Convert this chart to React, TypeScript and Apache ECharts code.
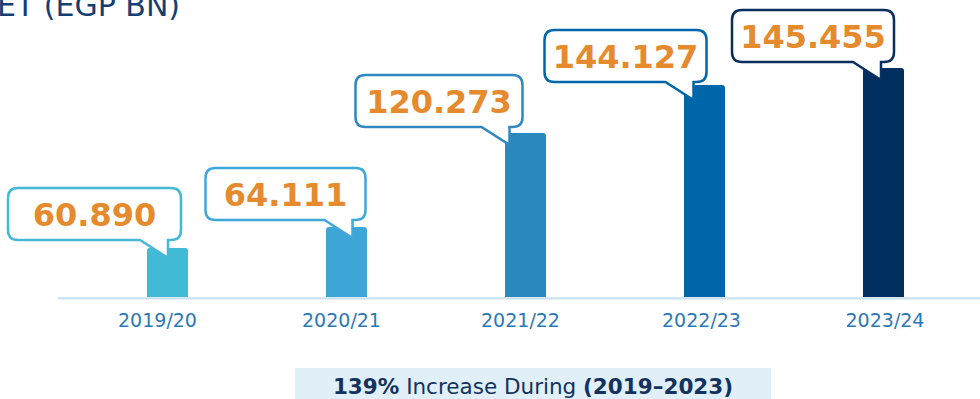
import React, { useEffect, useRef } from "react";
import * as echarts from "echarts";

const categories = ["2019/20", "2020/21", "2021/22", "2022/23", "2023/24"];
const values = [60.89, 64.111, 120.273, 144.127, 145.455];
// drawn bar levels as they appear in the picture (the infographic is not to scale)
const barLevels = [49, 70, 164, 212, 229];
const barColors = ["#41BAD6", "#3EA6D7", "#2B88BE", "#0066AA", "#002E5E"];
const bubbleBorders = ["#45B8D8", "#3FA8DB", "#2F88BF", "#0066AA", "#0A2F5F"];
// bubble placement relative to bar top (style only)
const bubbleLayout = [
  { dx: 13.5, dy: -8, w: 173 },
  { dx: 19, dy: -7, w: 160 },
  { dx: -3, dy: -6, w: 167 },
  { dx: 2, dy: -3, w: 162 },
  { dx: 10.5, dy: -6, w: 162 },
];
// horizontal nudge of each tick label (style only)
const labelShift = [-10, -5, -5, -3, 1.5];
const titleText = "ET (EGP BN)";
const noteBold1 = "139%";
const noteNormal = " Increase During ";
const noteBold2 = "(2019–2023)";

export default function App() {
  const ref = useRef<HTMLDivElement>(null);
  useEffect(() => {
    document.body.style.margin = "0";
    const chart = echarts.init(ref.current!, null, { renderer: "svg" });
    const renderItem = (params: any, api: any) => {
      const i = params.dataIndex;
      const p = api.coord([api.value(0), api.value(1)]);
      const cx = p[0];
      const ty = p[1];
      const lay = bubbleLayout[i];
      const R = cx + lay.dx;
      const B = ty + lay.dy;
      const L = R - lay.w;
      const T = B - 52;
      const r = 10;
      const tailR = R - 13;
      const tailL = tailR - 28;
      const tipY = B + 18;
      const d = `M${L + r} ${T} L${R - r} ${T} Q${R} ${T} ${R} ${T + r} L${R} ${B - r} Q${R} ${B} ${R - r} ${B} L${tailR} ${B} L${tailR} ${tipY} L${tailL} ${B} L${L + r} ${B} Q${L} ${B} ${L} ${B - r} L${L} ${T + r} Q${L} ${T} ${L + r} ${T} Z`;
      return {
        type: "group",
        children: [
          {
            type: "path",
            shape: { pathData: d },
            style: { fill: "#ffffff", stroke: bubbleBorders[i], lineWidth: 2.5, lineJoin: "miter" },
          },
          {
            type: "text",
            x: (L + R) / 2,
            y: (T + B) / 2 + 1,
            style: {
              text: values[i].toFixed(3),
              fill: "#E68A2E",
              font: 'bold 32px "DejaVu Sans"',
              align: "center",
              verticalAlign: "middle",
            },
          },
        ],
      };
    };
    const labelRich: Record<string, any> = {};
    labelShift.forEach((s, i) => {
      labelRich["c" + i] = {
        color: "#2B78B8",
        fontSize: 19,
        fontFamily: "DejaVu Sans",
        padding: s < 0 ? [0, -2 * s, 0, 0] : [0, 0, 0, 2 * s],
      };
    });
    chart.setOption({
      animation: false,
      grid: { left: 78, right: 7, top: 20, bottom: 102 },
      xAxis: {
        type: "category",
        data: categories,
        axisLine: { show: false },
        axisTick: { show: false },
        axisLabel: {
          color: "#2B78B8",
          fontSize: 19,
          fontFamily: "DejaVu Sans",
          margin: 13,
          formatter: (v: string, i: number) => `{c${i}|${v}}`,
          rich: labelRich,
        },
      },
      yAxis: { type: "value", min: 0, max: 277, show: false, splitLine: { show: false } },
      series: [
        {
          type: "bar",
          barWidth: 41,
          z: 2,
          data: barLevels.map((v, i) => ({
            value: v,
            itemStyle: { color: barColors[i], borderRadius: [3, 3, 0, 0] },
          })),
        },
        {
          type: "custom",
          z: 3,
          clip: false,
          encode: { x: 0, y: 1 },
          data: barLevels.map((v, i) => [i, v]),
          renderItem,
        },
      ],
      graphic: [
        {
          type: "line",
          shape: { x1: 58, y1: 298.3, x2: 980, y2: 298.3 },
          style: { stroke: "#C9E2F1", lineWidth: 2.2 },
          z: 1,
        },
        {
          type: "text",
          x: -3,
          y: 20,
          style: {
            text: titleText,
            fill: "#163E72",
            font: '30px "DejaVu Sans"',
            align: "left",
            verticalAlign: "bottom",
          },
        },
        {
          type: "rect",
          shape: { x: 295, y: 368, width: 476, height: 40 },
          style: { fill: "#E1EFF8" },
        },
        {
          type: "text",
          x: 533,
          y: 386,
          style: {
            text: `{b|${noteBold1}}{n|${noteNormal}}{b|${noteBold2}}`,
            align: "center",
            verticalAlign: "middle",
            rich: {
              b: { fontFamily: "DejaVu Sans", fontWeight: "bold", fontSize: 21.5, fill: "#13325E", color: "#13325E" },
              n: { fontFamily: "DejaVu Sans", fontSize: 21.5, fill: "#13325E", color: "#13325E" },
            },
          },
        },
      ],
    });
    return () => chart.dispose();
  }, []);
  return <div ref={ref} style={{ width: 980, height: 399 }} />;
}
